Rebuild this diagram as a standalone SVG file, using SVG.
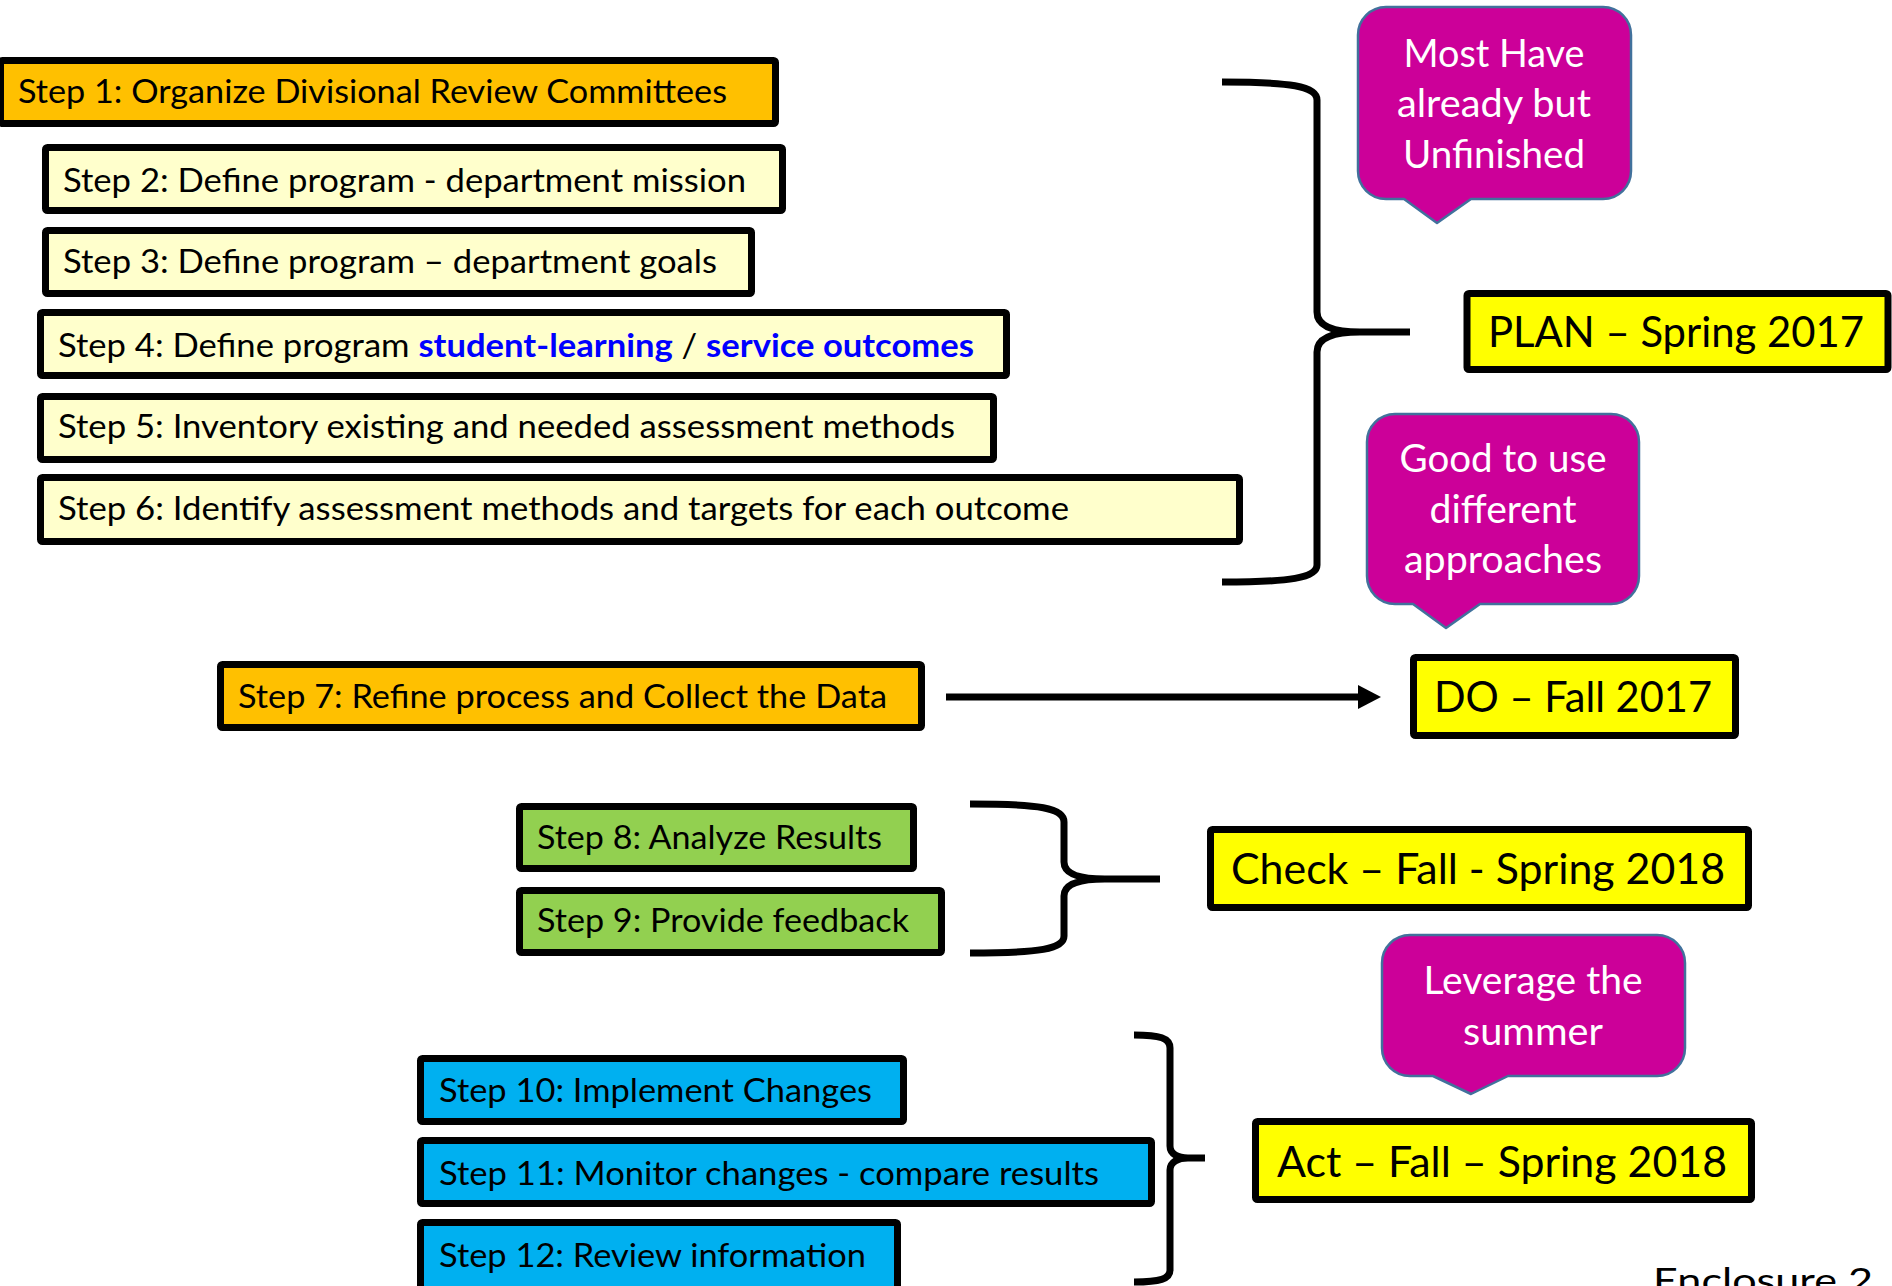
<svg xmlns="http://www.w3.org/2000/svg" width="1892" height="1286" viewBox="0 0 1892 1286">
<defs>
<style>
.box{stroke:#000;stroke-width:7;stroke-linejoin:round}
.orange{fill:#FFC000}
.cream{fill:#FFFFCC}
.green{fill:#92D050}
.blue{fill:#00B0F0}
.yellow{fill:#FFFF00}
.step{font-family:Lato,"Open Sans","Liberation Sans",sans-serif;font-size:32px;fill:#000}
.phase{font-family:Lato,"Open Sans","Liberation Sans",sans-serif;font-size:42px;fill:#000}
.hl{fill:#0000FF;font-weight:bold}
.callout{fill:#CC0099;stroke:#41719C;stroke-width:2.5;stroke-linejoin:round}
.ctext{font-family:Lato,"Open Sans","Liberation Sans",sans-serif;font-size:38px;fill:#FFFFFF;text-anchor:middle}
.brace{fill:none;stroke:#000;stroke-width:7}
</style>
</defs>
<rect width="1892" height="1286" fill="#FFFFFF"/>

<g id="connectors">
<path class="brace" d="M1222,82 C1290,82 1317,86 1317,100 L1317,312 C1317,326 1332,332 1360,332 L1410,332 M1360,332 C1332,332 1317,338 1317,352 L1317,565 C1317,578 1290,582 1222,582"/>
<path class="brace" d="M970,804 C1040,804 1064,808 1064,822 L1064,862 C1064,874 1080,879 1105,879 L1160,879 M1105,879 C1080,879 1064,884 1064,896 L1064,936 C1064,949 1040,953 970,953"/>
<path class="brace" d="M1134,1035 C1160,1035 1170,1038 1170,1048 L1170,1146 C1170,1154 1178,1158 1188,1158 L1205,1158 M1188,1158 C1178,1158 1170,1162 1170,1170 L1170,1270 C1170,1279 1160,1282 1134,1282"/>
<line x1="946" y1="697" x2="1360" y2="697" stroke="#000" stroke-width="7"/>
<polygon points="1358,685 1381,697 1358,709" fill="#000"/>
</g>

<g id="step1"><rect class="box orange" x="0.5" y="60.5" width="775" height="63" rx="2"/><text class="step" x="18" y="103" textLength="709" lengthAdjust="spacingAndGlyphs">Step 1: Organize Divisional Review Committees</text></g>
<g id="step2"><rect class="box cream" x="45.5" y="147.5" width="737" height="63" rx="2"/><text class="step" x="63" y="192" textLength="683" lengthAdjust="spacingAndGlyphs">Step 2: Define program - department mission</text></g>
<g id="step3"><rect class="box cream" x="45.5" y="230.5" width="706" height="63" rx="2"/><text class="step" x="63" y="273" textLength="654" lengthAdjust="spacingAndGlyphs">Step 3: Define program – department goals</text></g>
<g id="step4"><rect class="box cream" x="40.5" y="312.5" width="966" height="63" rx="2"/><text class="step" x="58" y="357" textLength="916" lengthAdjust="spacingAndGlyphs">Step 4: Define program <tspan class="hl">student-learning</tspan> / <tspan class="hl">service outcomes</tspan></text></g>
<g id="step5"><rect class="box cream" x="40.5" y="396.5" width="953" height="63" rx="2"/><text class="step" x="58" y="438" textLength="897" lengthAdjust="spacingAndGlyphs">Step 5: Inventory existing and needed assessment methods</text></g>
<g id="step6"><rect class="box cream" x="40.5" y="477.5" width="1199" height="64" rx="2"/><text class="step" x="58" y="520" textLength="1011" lengthAdjust="spacingAndGlyphs">Step 6: Identify assessment methods and targets for each outcome</text></g>
<g id="step7"><rect class="box orange" x="220.5" y="664.5" width="701" height="63" rx="2"/><text class="step" x="238" y="708" textLength="649" lengthAdjust="spacingAndGlyphs">Step 7: Refine process and Collect the Data</text></g>
<g id="step8"><rect class="box green" x="519.5" y="806.5" width="394" height="62" rx="2"/><text class="step" x="537" y="849" textLength="345" lengthAdjust="spacingAndGlyphs">Step 8: Analyze Results</text></g>
<g id="step9"><rect class="box green" x="519.5" y="890.5" width="422" height="62" rx="2"/><text class="step" x="537" y="932" textLength="372" lengthAdjust="spacingAndGlyphs">Step 9: Provide feedback</text></g>
<g id="step10"><rect class="box blue" x="420.5" y="1058.5" width="483" height="63" rx="2"/><text class="step" x="439" y="1102" textLength="433" lengthAdjust="spacingAndGlyphs">Step 10: Implement Changes</text></g>
<g id="step11"><rect class="box blue" x="420.5" y="1140.5" width="731" height="63" rx="2"/><text class="step" x="439" y="1185" textLength="660" lengthAdjust="spacingAndGlyphs">Step 11: Monitor changes - compare results</text></g>
<g id="step12"><rect class="box blue" x="420.5" y="1222.5" width="477" height="70" rx="2"/><text class="step" x="439" y="1267" textLength="427" lengthAdjust="spacingAndGlyphs">Step 12: Review information</text></g>

<g id="plan"><rect class="box yellow" x="1467" y="293.5" width="421" height="76" rx="2"/><text class="phase" x="1488" y="347" textLength="376" lengthAdjust="spacingAndGlyphs">PLAN – Spring 2017</text></g>
<g id="do"><rect class="box yellow" x="1413.5" y="657.5" width="322" height="78" rx="2"/><text class="phase" x="1434" y="712" textLength="278" lengthAdjust="spacingAndGlyphs">DO – Fall 2017</text></g>
<g id="check"><rect class="box yellow" x="1210.5" y="829.5" width="538" height="78" rx="2"/><text class="phase" x="1231" y="884" textLength="494" lengthAdjust="spacingAndGlyphs">Check – Fall - Spring 2018</text></g>
<g id="act"><rect class="box yellow" x="1255.5" y="1121.5" width="496" height="78" rx="2"/><text class="phase" x="1277" y="1177" textLength="450" lengthAdjust="spacingAndGlyphs">Act – Fall – Spring 2018</text></g>

<g id="callout-most">
<path class="callout" d="M1386,7 H1603 A28,28 0 0 1 1631,35 V171 A28,28 0 0 1 1603,199 H1471 L1437,223 L1404,199 H1386 A28,28 0 0 1 1358,171 V35 A28,28 0 0 1 1386,7 Z"/>
<text class="ctext" x="1494" y="67" textLength="181" lengthAdjust="spacingAndGlyphs">Most Have</text>
<text class="ctext" x="1494" y="117" textLength="194" lengthAdjust="spacingAndGlyphs">already but</text>
<text class="ctext" x="1494" y="168" textLength="182" lengthAdjust="spacingAndGlyphs">Unfinished</text>
</g>
<g id="callout-good">
<path class="callout" d="M1395,414 H1611 A28,28 0 0 1 1639,442 V576 A28,28 0 0 1 1611,604 H1480 L1446,628 L1413,604 H1395 A28,28 0 0 1 1367,576 V442 A28,28 0 0 1 1395,414 Z"/>
<text class="ctext" x="1503" y="472" textLength="207" lengthAdjust="spacingAndGlyphs">Good to use</text>
<text class="ctext" x="1503" y="523" textLength="147" lengthAdjust="spacingAndGlyphs">different</text>
<text class="ctext" x="1503" y="573" textLength="198" lengthAdjust="spacingAndGlyphs">approaches</text>
</g>
<g id="callout-leverage">
<path class="callout" d="M1410,935 H1657 A28,28 0 0 1 1685,963 V1048 A28,28 0 0 1 1657,1076 H1508 L1471,1094 L1433,1076 H1410 A28,28 0 0 1 1382,1048 V963 A28,28 0 0 1 1410,935 Z"/>
<text class="ctext" x="1533" y="994" textLength="219" lengthAdjust="spacingAndGlyphs">Leverage the</text>
<text class="ctext" x="1533" y="1045" textLength="140" lengthAdjust="spacingAndGlyphs">summer</text>
</g>

<g id="enclosure"><text class="step" x="1653" y="1293" font-size="35" textLength="220" lengthAdjust="spacingAndGlyphs" style="font-size:35px">Enclosure 2</text></g>
</svg>
